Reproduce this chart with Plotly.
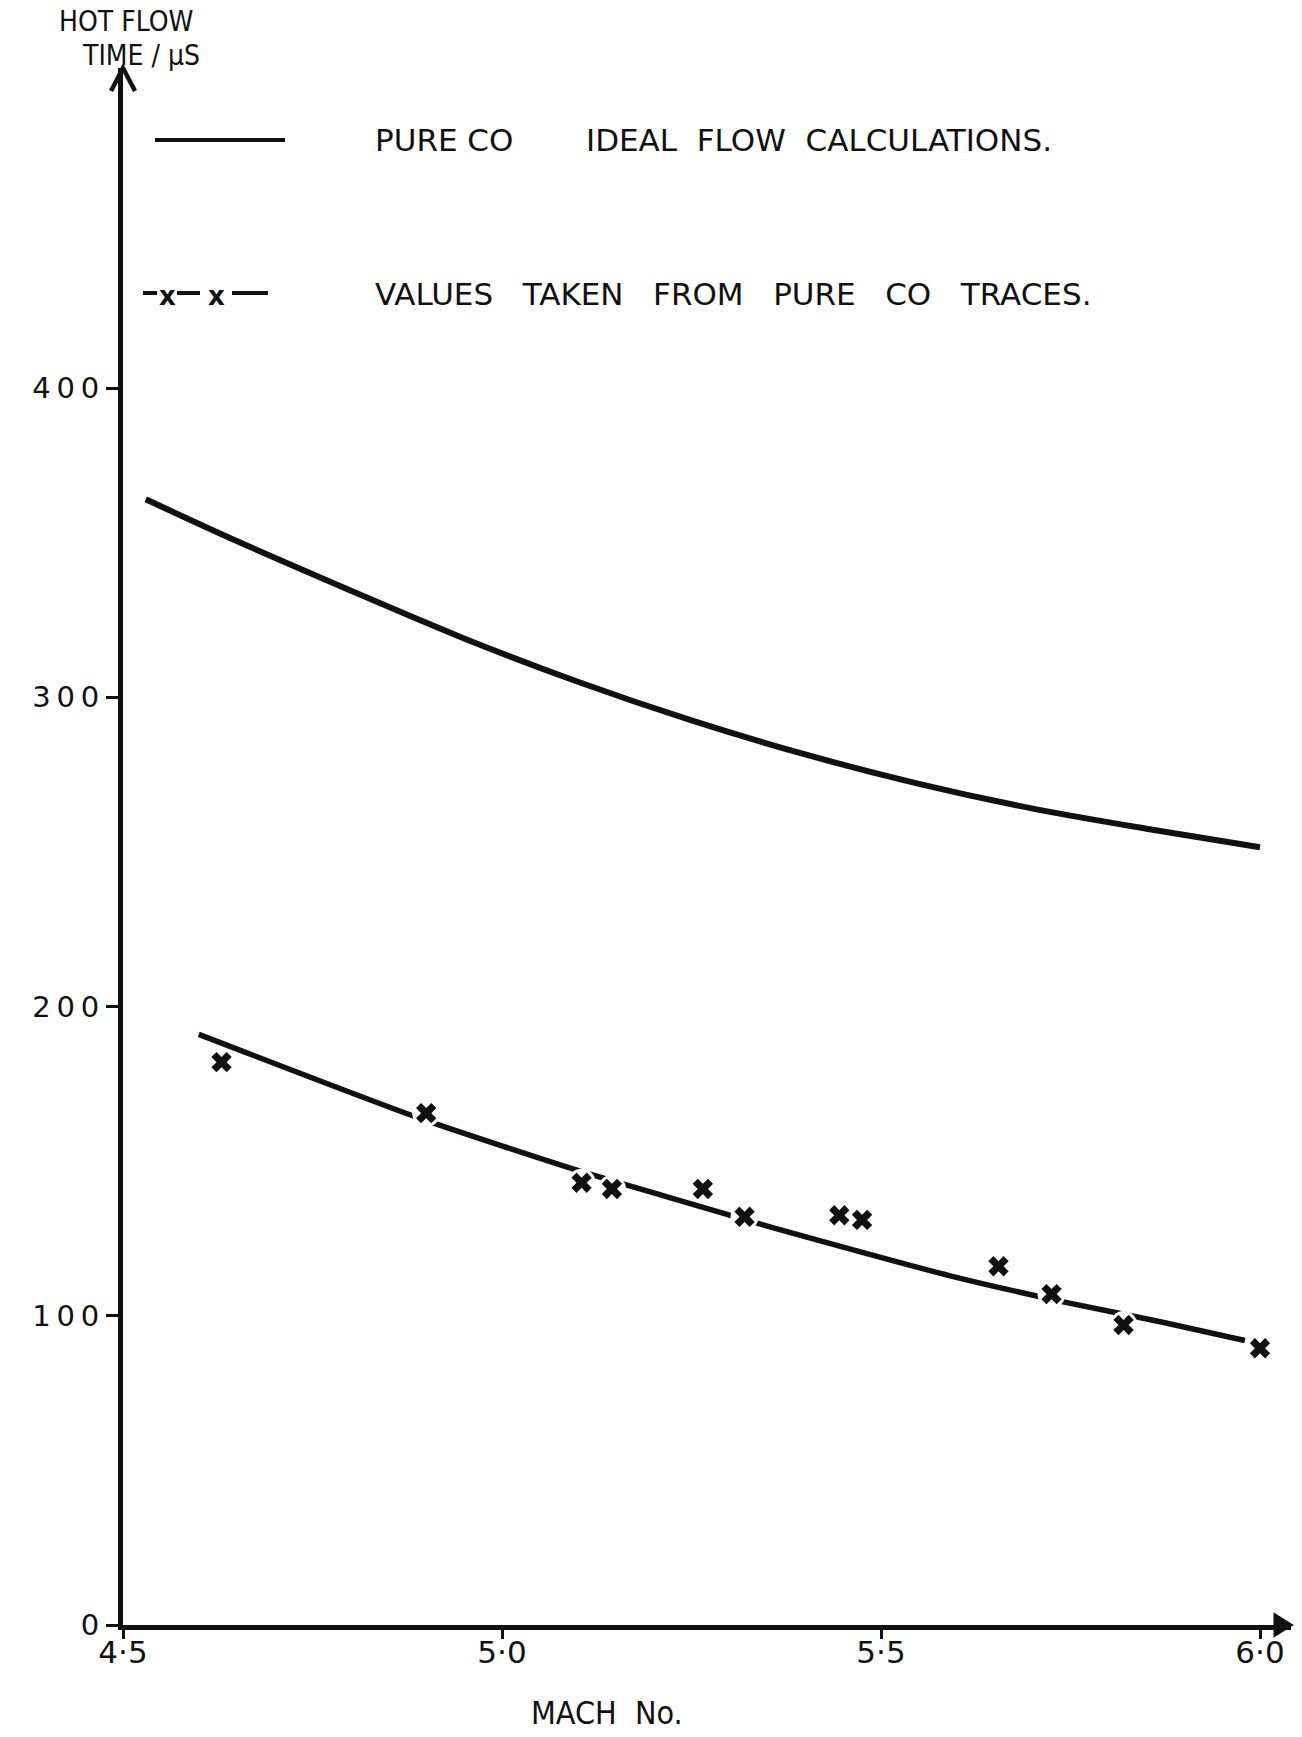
import plotly.graph_objects as go

# ---------------- data ----------------
# Ideal flow calculation curve (pure CO)
ideal_mach = [4.53, 4.65, 4.80, 4.95, 5.10, 5.25, 5.40, 5.55, 5.70, 5.85, 6.00]
ideal_time = [364, 350.5, 334.5, 319, 305, 292.5, 281.5, 272, 264, 257.5, 251.5]

# Hand-drawn line through the trace values
fit_mach = [4.60, 4.89, 5.10, 5.21, 5.35, 5.59, 5.75, 5.87, 5.98]
fit_time = [191, 164, 147, 139, 129, 113, 104, 98, 92]

# Values taken from pure CO traces
trace_mach = [4.63, 4.90, 5.105, 5.145, 5.265, 5.32, 5.445, 5.475, 5.655, 5.725, 5.82, 6.00]
trace_time = [182, 165.5, 143, 141, 141, 132, 132.5, 131, 116, 107, 97, 89.5]

x_tickvals = [4.5, 5.0, 5.5, 6.0]
x_ticktext = ["4·5", "5·0", "5·5", "6·0"]
y_tickvals = [0, 100, 200, 300, 400]
y_ticktext = ["0", "1\u20090\u20090", "2\u20090\u20090", "3\u20090\u20090", "4\u20090\u20090"]

# ---------------- layout geometry ----------------
W, H = 1302, 1737
ML, MR, MT, MB = 123, 11, 68, 112
PW, PH = W - ML - MR, H - MT - MB
X_PER_UNIT = 758.0      # pixels per Mach unit
Y_PER_UNIT = 3.0925     # pixels per microsecond
x_range = [4.5, 4.5 + PW / X_PER_UNIT]
y_range = [0, PH / Y_PER_UNIT]

FONT = "DejaVu Sans, Liberation Sans, sans-serif"
FONT_C = "DejaVu Sans Condensed, Liberation Sans Narrow, DejaVu Sans, sans-serif"
INK = "#111111"


def px(xp):
    return (xp - ML) / PW


def py(yp):
    return (H - MB - yp) / PH


fig = go.Figure()

fig.add_trace(go.Scatter(
    x=ideal_mach, y=ideal_time, mode="lines",
    line=dict(color=INK, width=6, shape="spline", smoothing=0.8),
    showlegend=False, hoverinfo="skip"))

fig.add_trace(go.Scatter(
    x=fit_mach, y=fit_time, mode="lines",
    line=dict(color=INK, width=5.5, shape="spline", smoothing=0.6),
    showlegend=False, hoverinfo="skip"))

# white halos break the hand-drawn line around the points
fig.add_trace(go.Scatter(
    x=trace_mach, y=trace_time, mode="markers",
    marker=dict(symbol="circle", size=28, color="white", line=dict(width=0)),
    showlegend=False, hoverinfo="skip"))

fig.add_trace(go.Scatter(
    x=trace_mach, y=trace_time, mode="markers",
    marker=dict(symbol="x", size=18, color=INK, line=dict(width=0)),
    showlegend=False))

shapes = []
# y-axis arrowhead (open chevron)
shapes.append(dict(type="path", xref="paper", yref="paper", xsizemode="pixel", ysizemode="pixel",
                   xanchor=0, yanchor=1,
                   path="M -12 -23 L 0 0 L 12 -23",
                   line=dict(color=INK, width=4.5)))
# x-axis arrowhead
shapes.append(dict(type="path", xref="paper", yref="paper", xsizemode="pixel", ysizemode="pixel",
                   xanchor=1, yanchor=0,
                   path="M -16 10 L 0 0 L -16 -10 Z", fillcolor=INK,
                   line=dict(color=INK, width=3)))

# legend samples
shapes.append(dict(type="line", xref="paper", yref="paper",
                   x0=px(155), x1=px(285), y0=py(140), y1=py(140),
                   line=dict(color=INK, width=4)))
for a, b in [(143, 157), (177, 200), (232, 268)]:
    shapes.append(dict(type="line", xref="paper", yref="paper",
                       x0=px(a), x1=px(b), y0=py(293), y1=py(293),
                       line=dict(color=INK, width=4)))

annotations = []


def label(text, x, y, size, xanchor="center", family=FONT):
    annotations.append(dict(text=text, xref="paper", yref="paper", x=px(x), y=py(y),
                            xanchor=xanchor, yanchor="middle", showarrow=False,
                            font=dict(family=family, size=size, color=INK)))


label("HOT FLOW", 126, 21, 28, family=FONT_C)
label("TIME / μS", 141, 55, 28, family=FONT_C)
label("PURE CO", 373, 140, 31, "left")
label("IDEAL  FLOW  CALCULATIONS.", 584, 140, 31, "left")
label("VALUES   TAKEN   FROM   PURE   CO   TRACES.", 373, 294, 31, "left")
label("MACH  No.", 607, 1713, 32, family=FONT_C)
# legend 'x' glyphs
for gx in (157, 206):
    annotations.append(dict(text="<b>x</b>", xref="paper", yref="paper", x=px(gx), y=py(279),
                            showarrow=False, font=dict(family=FONT, size=26, color=INK)))

fig.update_layout(
    width=W, height=H,
    margin=dict(l=ML, r=MR, t=MT, b=MB, pad=0),
    paper_bgcolor="white", plot_bgcolor="white",
    showlegend=False,
    shapes=shapes, annotations=annotations,
    font=dict(family=FONT, color=INK),
    xaxis=dict(range=x_range, showgrid=False, zeroline=False,
               showline=True, linecolor=INK, linewidth=5,
               ticks="outside", ticklen=9, tickwidth=3, tickcolor=INK,
               tickvals=x_tickvals, ticktext=x_ticktext,
               tickfont=dict(family=FONT, size=31, color=INK),
               ticklabelstandoff=-13),
    yaxis=dict(range=y_range, showgrid=False, zeroline=False,
               showline=True, linecolor=INK, linewidth=5,
               ticks="outside", ticklen=12, tickwidth=3, tickcolor=INK,
               tickvals=y_tickvals, ticktext=y_ticktext,
               tickfont=dict(family=FONT, size=29, color=INK),
               ticklabelstandoff=1),
)

fig.write_html("out.html")
